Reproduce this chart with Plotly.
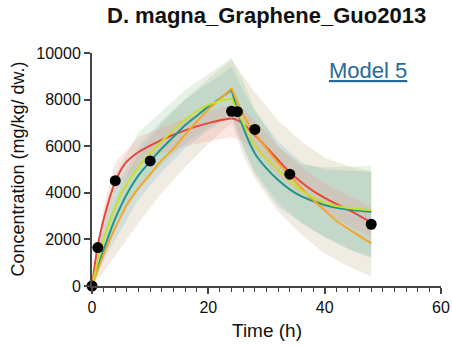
import plotly.graph_objects as go

# Observed data
obs_t = [0, 1, 4, 10, 24, 25, 28, 34, 48]
obs_c = [0, 1650, 4520, 5370, 7500, 7480, 6720, 4800, 2650]

# Model curves (exposure phase 0-24 h, depuration phase 24-48 h)
t_model = [0, 0.5, 1, 2, 3, 4, 5, 6, 8, 10, 12, 14, 16, 18, 20, 22, 24,
           25, 26, 28, 30, 32, 34, 36, 38, 40, 42, 45, 48]
red_c = [0, 950, 1750, 2850, 3750, 4480, 5000, 5350, 5750, 6020, 6270, 6490, 6680, 6850, 6990, 7110, 7200,
         7120, 6950, 6480, 5950, 5410, 4880, 4450, 4080, 3780, 3520, 3150, 2720]
lime_c = [0, 550, 1100, 2000, 2750, 3400, 3950, 4400, 5100, 5700, 6200, 6700, 7150, 7500, 7780, 7950, 8050,
          7500, 7000, 6050, 5450, 4980, 4500, 4100, 3800, 3580, 3430, 3320, 3260]
teal_c = [0, 400, 800, 1550, 2250, 2900, 3450, 3950, 4750, 5350, 5900, 6400, 6900, 7300, 7700, 8050, 8410,
          7550, 6800, 5690, 5050, 4550, 4150, 3850, 3650, 3480, 3360, 3250, 3190]
orange_c = [0, 350, 700, 1350, 1950, 2500, 3000, 3500, 4200, 4800, 5400, 5900, 6500, 7050, 7580, 8030, 8480,
            7900, 7350, 6550, 5900, 5270, 4750, 4200, 3700, 3250, 2800, 2300, 1830]

# Uncertainty bands
t_band = [0, 2, 4, 8, 12, 16, 20, 24, 26, 28, 32, 36, 40, 44, 48]
tan_lo = [0, 600, 1300, 2700, 4000, 5100, 6100, 7000, 5600, 4600, 3200, 2200, 1400, 850, 420]
tan_hi = [0, 2300, 3800, 5700, 7000, 8000, 8900, 9700, 9000, 8300, 7100, 6200, 5500, 5150, 4900]
green_lo = [0, 1500, 2600, 4100, 5200, 6100, 6800, 7300, 6000, 4900, 3600, 2700, 2100, 1600, 1250]
green_hi = [0, 3000, 4800, 6600, 7500, 8400, 9100, 9800, 8800, 7600, 6000, 5200, 5100, 5120, 5150]
blue_lo = [0, 1100, 2000, 3700, 4900, 5900, 6700, 7300, 5900, 4800, 3400, 2700, 2100, 1600, 1200]
blue_hi = [0, 2600, 4200, 6000, 7100, 8000, 8700, 9400, 8400, 7500, 6200, 5300, 5000, 4950, 4900]
pink_lo = [0, 2300, 4000, 5200, 5700, 6000, 6200, 6400, 6200, 5800, 4700, 3900, 3200, 2600, 2100]
pink_hi = [0, 3400, 5300, 6400, 6800, 7200, 7500, 7800, 7600, 7100, 6000, 5100, 4400, 3900, 3400]

x_ticks = [0, 20, 40, 60]
y_ticks = [0, 2000, 4000, 6000, 8000, 10000]
t_switch = 24

FONT = "Liberation Sans, Arial, Helvetica, sans-serif"

fig = go.Figure()

bands = [
    (tan_lo, tan_hi, "rgba(190,170,120,0.22)"),
    (blue_lo, blue_hi, "rgba(110,175,205,0.22)"),
    (green_lo, green_hi, "rgba(140,195,140,0.22)"),
    (pink_lo, pink_hi, "rgba(240,140,140,0.22)"),
]
for lo, hi, col in bands:
    fig.add_trace(go.Scatter(
        x=t_band + t_band[::-1], y=hi + lo[::-1],
        fill="toself", fillcolor=col, line=dict(width=0),
        mode="lines", hoverinfo="skip", showlegend=False))

lines = [
    (red_c, "#e8483c"),
    (teal_c, "#1e9688"),
    (orange_c, "#f5a623"),
    (lime_c, "#c6e02c"),
]
k = t_model.index(t_switch)
for vals, col in lines:
    for xs, ys in ((t_model[:k + 1], vals[:k + 1]), (t_model[k:], vals[k:])):
        fig.add_trace(go.Scatter(x=xs, y=ys, mode="lines",
                                 line=dict(color=col, width=2, shape="spline", smoothing=0.6),
                                 showlegend=False))

fig.add_trace(go.Scatter(x=obs_t, y=obs_c, mode="markers",
                         marker=dict(color="black", size=11),
                         cliponaxis=False, showlegend=False))

axis_common = dict(showline=True, linecolor="#444", linewidth=2, ticks="outside",
                   ticklen=6, tickwidth=1.5, tickcolor="#444", showgrid=False,
                   zeroline=False, automargin=False,
                   tickfont=dict(family=FONT, size=16, color="#111"))

fig.update_xaxes(range=[0, 60], tickvals=x_ticks, ticktext=[str(v) for v in x_ticks],
                 minor=dict(dtick=2, ticklen=4, tickwidth=1.2, tickcolor="#444", ticks="outside", showgrid=False),
                 **axis_common)
fig.update_yaxes(range=[0, 10000], tickvals=y_ticks, ticktext=[str(v) for v in y_ticks], **axis_common)

fig.update_layout(
    width=452, height=346,
    margin=dict(l=92, r=11, t=53, b=60),
    plot_bgcolor="white", paper_bgcolor="white",
    showlegend=False,
    annotations=[
        dict(text="<b>D. magna_Graphene_Guo2013</b>", xref="paper", yref="paper",
             x=0.5, y=1, yshift=38, xanchor="center", yanchor="middle", showarrow=False,
             font=dict(family=FONT, size=22, color="#111")),
        dict(text="<u>Model 5</u>", xref="paper", yref="paper",
             x=0.791, y=0.923, xanchor="center", yanchor="middle", showarrow=False,
             font=dict(family=FONT, size=22, color="#2a6a9a")),
        dict(text="Time (h)", xref="paper", yref="paper", x=0.5, y=0, yshift=-44,
             xanchor="center", yanchor="middle", showarrow=False,
             font=dict(family=FONT, size=19, color="#111")),
        dict(text="Concentration (mg/kg/ dw.)", xref="paper", yref="paper", x=0, y=0.5,
             xshift=-75, textangle=-90, xanchor="center", yanchor="middle", showarrow=False,
             font=dict(family=FONT, size=18, color="#111")),
    ],
)

fig.write_html("out.html")
